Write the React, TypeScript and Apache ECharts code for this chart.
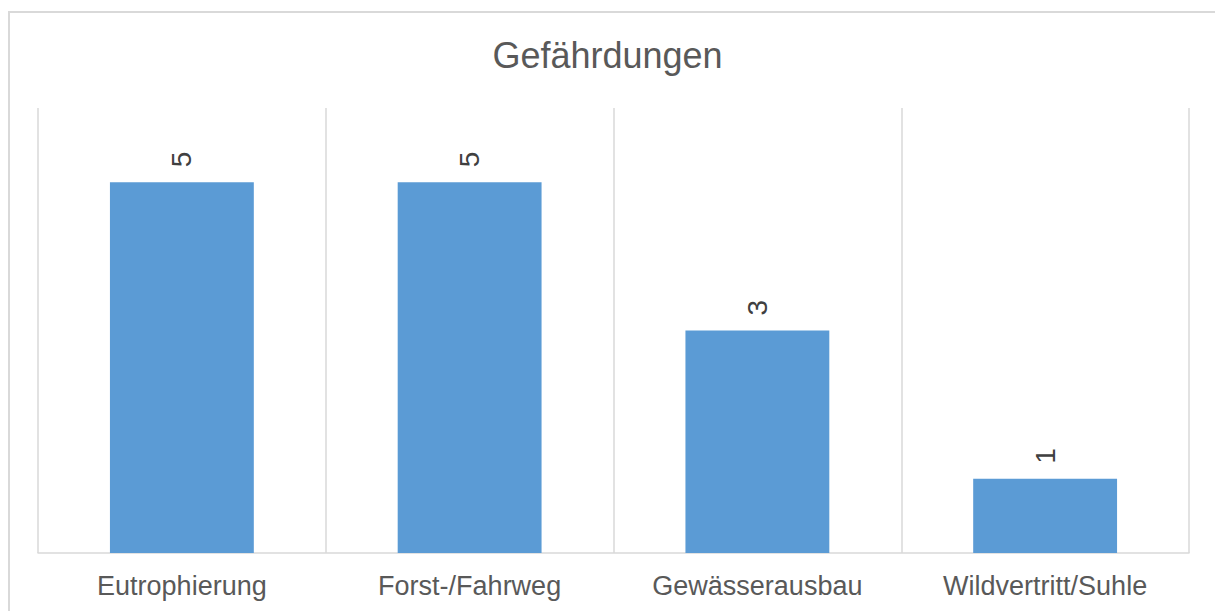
import React, { useEffect, useRef } from "react";
import * as echarts from "echarts";

const title = "Gefährdungen";
const categories = ["Eutrophierung", "Forst-/Fahrweg", "Gewässerausbau", "Wildvertritt/Suhle"];
const values = [5, 5, 3, 1];

const FONT = "'Liberation Sans', Arial, Helvetica, sans-serif";

export default function App() {
  const ref = useRef<HTMLDivElement>(null);
  useEffect(() => {
    if (!ref.current) return;
    const chart = echarts.init(ref.current, undefined, { renderer: "svg" });
    chart.setOption({
      animation: false,
      backgroundColor: "#ffffff",
      title: {
        text: title,
        left: "center",
        top: 32,
        textStyle: { fontFamily: FONT, fontSize: 36, fontWeight: "normal", color: "#595959" },
      },
      graphic: [
        {
          type: "rect",
          shape: { x: 9, y: 12, width: 1400, height: 800 },
          style: { fill: "none", stroke: "#d9d9d9", lineWidth: 2 },
          silent: true,
        },
      ],
      grid: { left: 38, right: 26, top: 108, bottom: 58, containLabel: false },
      xAxis: {
        type: "category",
        data: categories,
        axisLine: { show: true, lineStyle: { color: "#d9d9d9", width: 1.5 } },
        axisTick: { show: false },
        splitLine: { show: true, lineStyle: { color: "#d9d9d9", width: 1.5 } },
        axisLabel: { fontFamily: FONT, fontSize: 27, color: "#595959", margin: 19, interval: 0 },
      },
      yAxis: {
        type: "value",
        min: 0,
        max: 6,
        interval: 1,
        axisLabel: { show: false },
        axisLine: { show: false },
        axisTick: { show: false },
        splitLine: { show: false },
      },
      series: [
        {
          type: "bar",
          data: values,
          barWidth: "50%",
          itemStyle: { color: "#5b9bd5" },
          label: {
            show: true,
            position: "top",
            rotate: 90,
            align: "left",
            verticalAlign: "middle",
            distance: 15,
            fontFamily: FONT,
            fontSize: 28,
            color: "#404040",
          },
        },
      ],
    });
    return () => chart.dispose();
  }, []);
  return (
    <div
      ref={ref}
      style={{ position: "absolute", left: 0, top: 0, width: 1215, height: 611 }}
    />
  );
}
